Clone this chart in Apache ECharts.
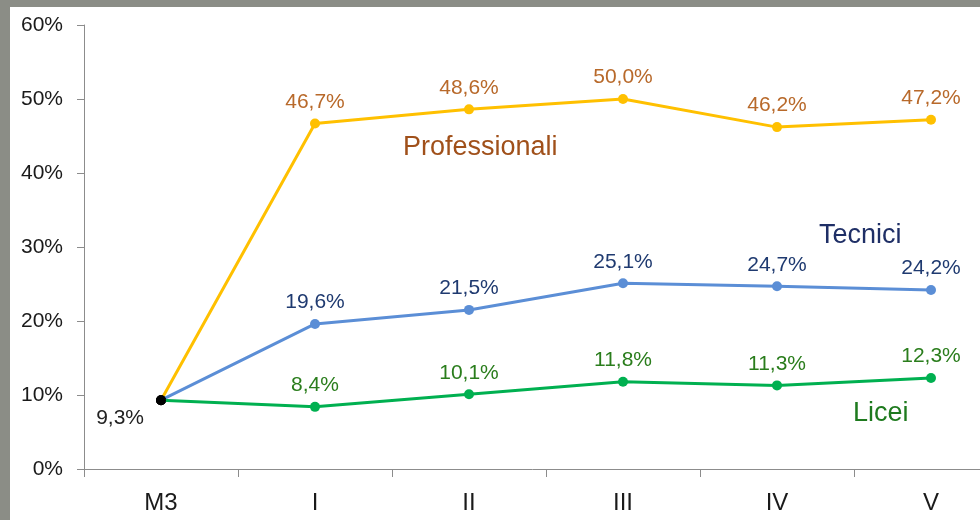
<!DOCTYPE html>
<html>
<head>
<meta charset="utf-8">
<script src="https://cdn.jsdelivr.net/npm/echarts@6/dist/echarts.min.js"></script>
<style>
	html,body{margin:0;padding:0;background:#8b8d86;width:980px;height:520px;overflow:hidden;}
	#box{position:absolute;left:10px;top:7px;width:970px;height:513px;background:#fff;}
</style>
</head>
<body>
<div id="box"></div>
<script>
	// categorie (anni)
	var categories = ['M3', 'I', 'II', 'III', 'IV', 'V'];
	// percentuali per tipo di scuola
	var professionali = [9.3, 46.7, 48.6, 50.0, 46.2, 47.2];
	var tecnici = [9.3, 19.6, 21.5, 25.1, 24.7, 24.2];
	var licei = [9.3, 8.4, 10.1, 11.8, 11.3, 12.3];
	var yTicks = [0, 10, 20, 30, 40, 50, 60];

	var font = '"Liberation Sans", Arial, sans-serif';

	function fmt(v){
		return v.toFixed(1).replace('.', ',') + '%';
	}

	// il primo punto (M3) e' comune: pallino nero
	function points(arr, showFirst){
		return arr.map(function(v, i){
			if(i === 0){
				return {
					value: v,
					itemStyle: {color: '#000'},
					label: showFirst ? {
						show: true,
						position: 'left',
						distance: 12,
						offset: [0, 18],
						color: '#222'
					} : {show: false}
				};
			}
			return v;
		});
	}

	function line(name, arr, color, labelColor, first){
		return {
			name: name,
			type: 'line',
			data: points(arr, first),
			symbol: 'circle',
			symbolSize: 10,
			lineStyle: {color: color, width: 3},
			itemStyle: {color: color},
			label: {
				show: true,
				position: 'top',
				distance: 6,
				color: labelColor,
				fontFamily: font,
				fontSize: 21,
				formatter: function(p){ return fmt(p.value); }
			},
			z: first ? 5 : 3
		};
	}

	var chart = echarts.init(document.getElementById('box'));
	chart.setOption({
		animation: false,
		grid: {left: 74, top: 18, right: -28, bottom: 51, outerBoundsMode: 'none'},
		xAxis: {
			type: 'category',
			data: categories,
			boundaryGap: true,
			axisLine: {lineStyle: {color: '#8c8c8c', width: 1}},
			axisTick: {show: true, length: 8, lineStyle: {color: '#8c8c8c'}},
			axisLabel: {color: '#1a1a1a', fontSize: 24, fontFamily: font, margin: 22}
		},
		yAxis: {
			type: 'value',
			min: yTicks[0],
			max: yTicks[yTicks.length - 1],
			interval: 10,
			axisLine: {show: true, lineStyle: {color: '#8c8c8c', width: 1}},
			axisTick: {show: true, length: 7, lineStyle: {color: '#8c8c8c'}},
			splitLine: {show: false},
			axisLabel: {
				color: '#1a1a1a', fontSize: 21, fontFamily: font, margin: 21,
				formatter: function(v){ return v + '%'; }
			}
		},
		series: [
			line('Professionali', professionali, '#ffc000', '#b8692a', false),
			line('Tecnici', tecnici, '#5b8ed6', '#1f3a70', false),
			line('Licei', licei, '#00b050', '#2a7d1c', true)
		],
		graphic: [
			{type: 'text', x: 393, y: 141, style: {text: 'Professionali', fill: '#a0501a', font: '27px ' + font, verticalAlign: 'middle'}},
			{type: 'text', x: 809, y: 229, style: {text: 'Tecnici', fill: '#1f2f66', font: '27px ' + font, verticalAlign: 'middle'}},
			{type: 'text', x: 843, y: 407, style: {text: 'Licei', fill: '#1e7a1e', font: '27px ' + font, verticalAlign: 'middle'}}
		]
	});
</script>
</body>
</html>
